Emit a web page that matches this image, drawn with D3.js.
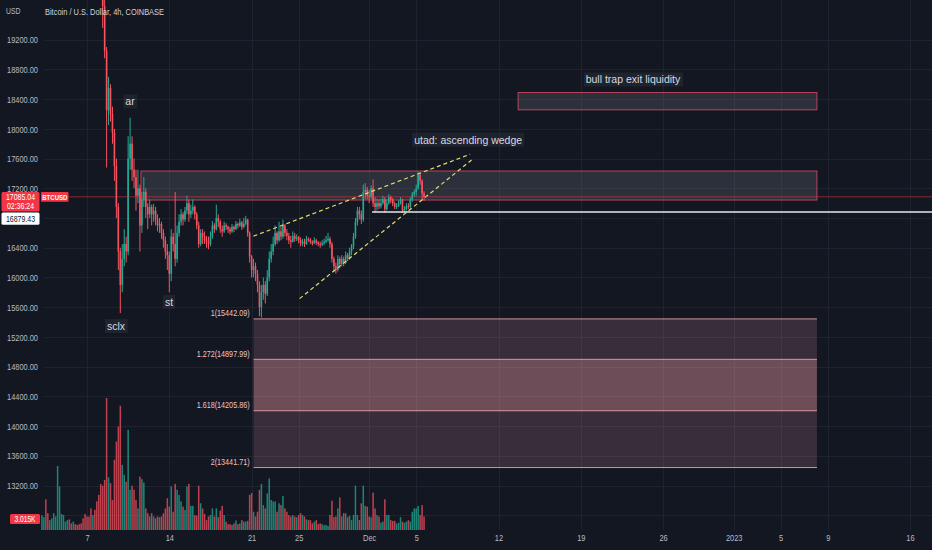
<!DOCTYPE html>
<html>
<head>
<meta charset="utf-8">
<title>BTCUSD 4h</title>
<script src="https://cdnjs.cloudflare.com/ajax/libs/d3/7.8.5/d3.min.js"></script>
<style>
	html, body { margin: 0; padding: 0; background: #131722; overflow: hidden; }
	svg { display: block; }
</style>
</head>
<body>
<svg id="chart" width="932" height="550"></svg>
<script>
(function(){
	'use strict';

	// 4h candles, Coinbase BTCUSD, first one 2022-11-03 04:00 UTC, one row per day
	var firstTime = Date.UTC(2022, 10, 3, 4);
	var firstOpen = 20200;

	var closes = [
		20250,20300,20180,20100,20220,
		20300,20350,20420,20950,21150,21150,
		21250,21300,21350,21300,21250,21300,
		21250,21200,21150,21100,21050,20900,
		20850,20800,20700,20800,20650,20600,
		20450,20150,19650,19050,18250,18550,
		18200,17950,17500,16950,16350,15900,
		16250,16450,16350,17600,17800,17450,
		17350,17100,17200,16700,17050,17150,
		16950,16850,16950,16850,16900,16780,
		16700,16720,16600,16500,16350,16300,
		16050,16550,16450,16250,16600,16750,
		16850,16780,16900,17000,16850,16900,
		16950,16850,16700,16450,16600,16550,
		16500,16470,16450,16550,16700,16650,
		16800,16750,16650,16620,16700,16680,
		16650,16620,16680,16650,16720,16700,
		16740,16680,16720,16780,16600,16280,
		16100,16150,16050,15900,15600,15800,
		15900,15780,16000,16250,16350,16450,
		16600,16500,16620,16550,16700,16600,
		16560,16500,16480,16560,16520,16540,
		16500,16460,16480,16450,16520,16510,
		16480,16460,16500,16470,16450,16440,
		16460,16480,16500,16520,16450,16250,
		16150,16100,16250,16180,16250,16200,
		16300,16260,16350,16420,16550,16750,
		16900,16850,16780,17150,17180,17100,
		17080,17200,17000,16950,17000,16960,
		17000,17050,16920,17000,17080,17050,
		17000,16950,16960,17000,17050,16900,
		16920,16960,16950,17050,17120,17150,
		17200,17380,17300,17130,17085.04
	];

	var highs = [
		20320,20380,20350,20230,20260,
		20340,20420,20480,21050,21250,21280,
		21330,21360,21470,21380,21340,21350,
		21320,21280,21240,21200,21150,21100,
		20950,20900,20850,20880,20850,20700,
		20680,20500,20200,20000,19100,18700,
		18600,18300,18000,17600,17000,16400,
		16450,16650,16550,17900,18150,17900,
		17600,17450,17450,17250,17150,17350,
		17200,17000,17050,16980,16990,16950,
		16850,16800,16750,16650,16550,16450,
		16350,16650,16600,17150,16700,16850,
		16920,16880,16950,17100,17050,16980,
		17050,16970,16880,16750,16650,16650,
		16620,16560,16550,16620,16760,16730,
		16980,16850,16780,16700,16750,16730,
		16700,16680,16720,16700,16760,16740,
		16790,16760,16800,16830,16790,16620,
		16300,16250,16200,16100,15950,15900,
		16000,15950,16100,16350,16450,16550,
		16700,16620,16750,16680,16780,16720,
		16650,16600,16560,16620,16600,16580,
		16560,16540,16520,16520,16560,16540,
		16530,16500,16540,16520,16490,16480,
		16500,16520,16560,16600,16550,16480,
		16280,16200,16300,16280,16300,16280,
		16350,16330,16400,16450,16600,16800,
		16950,16950,16900,17250,17270,17220,
		17180,17240,17320,17080,17060,17050,
		17060,17100,17080,17050,17120,17100,
		17070,17020,17000,17040,17080,17060,
		16960,17000,17000,17080,17150,17180,
		17250,17424,17400,17320,17160
	];

	var lows = [
		20150,20200,20120,20050,20080,
		20180,20260,20300,20380,20900,21050,
		21100,21200,21250,21220,21200,21180,
		21200,21150,21100,21050,20950,20850,
		20780,20700,20600,20650,20550,20500,
		20380,19900,19360,18950,17480,18050,
		18100,17800,17300,16800,16100,15520,
		15800,16150,16200,16300,17450,17300,
		17200,16900,17000,16350,16600,16950,
		16800,16650,16800,16700,16750,16700,
		16620,16600,16520,16400,16250,16100,
		15800,15950,16350,16150,16200,16550,
		16700,16700,16750,16850,16750,16800,
		16850,16780,16650,16400,16420,16450,
		16450,16400,16380,16420,16520,16600,
		16630,16680,16600,16550,16600,16640,
		16600,16580,16600,16610,16640,16660,
		16680,16640,16660,16700,16550,16200,
		16000,16000,15950,15800,15480,15460,
		15700,15650,15750,15950,16200,16300,
		16420,16450,16480,16500,16520,16550,
		16500,16450,16400,16470,16480,16490,
		16460,16420,16420,16410,16440,16480,
		16450,16430,16450,16440,16420,16400,
		16420,16440,16460,16480,16400,16200,
		16080,16050,16080,16120,16150,16150,
		16180,16220,16240,16300,16380,16520,
		16700,16780,16720,16750,17050,17050,
		17000,17060,16950,16880,16900,16920,
		16930,16980,16870,16900,16980,17000,
		16960,16920,16920,16950,16980,16870,
		16870,16900,16920,16930,17020,17080,
		17100,17180,17250,17050,17030
	];

	// volume in thousands of BTC
	var volumes = [
		4.1,3.5,8.4,4.6,2.7,
		3.2,4.6,3.7,17.5,11.9,4.4,
		4.1,2.3,2.7,2.9,1.8,2.3,
		1.6,1.4,1.6,1.8,3.2,4.4,
		3.7,3.7,5.9,4.1,5.5,7.8,
		9.6,12.6,12.1,13.7,36.1,14.4,
		12.8,8.2,19.2,24.2,28.3,34.0,
		17.8,15.1,13.2,27.4,11.0,12.1,
		11.0,8.2,5.9,14.6,13.9,13.0,
		5.9,4.6,3.7,4.6,3.7,3.2,
		3.7,3.5,3.7,4.6,5.9,8.7,
		6.4,11.9,5.0,12.6,11.0,9.6,
		7.8,6.4,5.5,11.9,12.6,6.6,
		6.6,4.1,3.9,12.1,7.3,5.9,
		4.4,2.7,3.7,4.1,5.9,3.7,
		5.9,3.5,5.3,6.6,4.1,2.3,
		1.6,1.6,1.4,1.8,2.6,1.6,
		1.8,2.7,2.3,2.3,2.5,9.6,
		10.1,5.0,3.7,5.0,11.0,12.6,
		6.8,5.9,10.0,14.1,8.2,7.8,
		7.8,5.0,7.3,6.8,9.3,5.9,
		5.0,4.1,3.7,4.1,3.7,3.5,
		4.1,4.6,4.1,3.7,2.9,2.7,
		2.7,1.8,2.3,2.7,1.6,1.8,
		1.6,1.3,1.4,1.1,4.1,8.0,
		3.5,3.7,5.9,8.9,3.7,4.6,
		4.6,3.5,3.9,2.7,4.1,12.1,
		4.1,2.7,7.3,12.1,6.6,6.4,
		3.7,3.5,10.2,5.9,4.1,3.7,
		2.0,2.3,8.4,4.1,4.1,2.7,
		2.5,2.5,1.8,2.0,3.5,2.3,
		2.0,2.3,2.7,2.3,5.0,5.9,
		5.9,6.6,4.1,6.8,3.7
	];
	var lastVolumeLabel = 3.015;

	var priceTicks = [19200,18800,18400,18000,17600,17200,16800,16400,16000,15600,15200,14800,14400,14000,13600,13200,12800];
	// these two sit under the price / volume badges, only their grid lines show
	var hiddenPriceLabels = [16800, 12800];
	var dateTicks = [
		Date.UTC(2022,10,7), Date.UTC(2022,10,14), Date.UTC(2022,10,21), Date.UTC(2022,10,25),
		Date.UTC(2022,11,1), Date.UTC(2022,11,5), Date.UTC(2022,11,12), Date.UTC(2022,11,19),
		Date.UTC(2022,11,26), Date.UTC(2023,0,1), Date.UTC(2023,0,5), Date.UTC(2023,0,9), Date.UTC(2023,0,16)
	];
	var dateLabels = ['7','14','21','25','Dec','5','12','19','26','2023','5','9','16'];

	// drawings
	var fibRatios = [1, 1.272, 1.618, 2];
	var fibPrices = [15442.09, 14897.99, 14205.86, 13441.71];
	var fibStart = Date.UTC(2022,10,21,4);
	var drawEnd = Date.UTC(2023,0,8,2);

	var zoneStarts = [Date.UTC(2022,11,13,16), Date.UTC(2022,10,11,14)];
	var zoneTops = [18489, 17433];
	var zoneBottoms = [18256, 17042];

	var wedgeUpper = [[Date.UTC(2022,10,21,4), 16556], [Date.UTC(2022,11,9,14), 17658]];
	var wedgeLower = [[Date.UTC(2022,10,25,2), 15715], [Date.UTC(2022,11,9,17), 17581]];

	var supportStart = Date.UTC(2022,11,1,6);
	var supportPrice = 16879.43;
	var lastPrice = 17085.04;

	var noteTexts = ['ar', 'sclx', 'st', 'utad: ascending wedge', 'bull trap exit liquidity'];
	var noteTimes = [Date.UTC(2022,10,10,15,45), Date.UTC(2022,10,9,11,10), Date.UTC(2022,10,13,23,25), Date.UTC(2022,11,9,10), Date.UTC(2022,11,23,10,30)];
	var notePrices = [18364, 15342, 15666, 17851, 18660];

	var W = 932, H = 550;
	var FONT = '"Liberation Sans", Arial, sans-serif';
	var UP = '#22ab94', DOWN = '#f7525f', RED = '#f23645';
	var GRID = '#1f2330', TEXT = '#b8bbc4';
	var SQUEEZE = 'scale(0.76,1)';
	var STEP = 4 * 3600 * 1000;

	var svg = d3.select('#chart').attr('font-family', FONT);

	var x = d3.scaleUtc()
		.domain([new Date(Date.UTC(2022,10,7)), new Date(Date.UTC(2023,0,16))])
		.range([87, 910]);
	var y = d3.scaleLinear().domain([13200, 19200]).range([485.5, 39.7]);
	var yVol = d3.scaleLinear().domain([0, 36.1]).range([530, 398]);

	var candles = closes.map(function(c, i){
		return {
			t: new Date(firstTime + i * STEP),
			o: i ? closes[i - 1] : firstOpen,
			h: highs[i], l: lows[i], c: c, v: volumes[i]
		};
	});
	function colorOf(d){ return d.c >= d.o ? UP : DOWN; }

	svg.append('rect').attr('width', W).attr('height', H).attr('fill', '#131722');

	drawGrid();
	drawVolume();
	drawFib();
	drawZones();
	drawCandles();
	drawLines();
	drawNotes();
	drawAxes();
	drawPriceLabels();

	function drawGrid(){
		var g = svg.append('g').attr('stroke', GRID).attr('stroke-width', 1);
		g.selectAll('line.h').data(priceTicks).join('line').attr('class', 'h')
			.attr('x1', 44).attr('x2', W)
			.attr('y1', function(d){ return Math.round(y(d)) + 0.5; })
			.attr('y2', function(d){ return Math.round(y(d)) + 0.5; });
		g.selectAll('line.v').data(dateTicks).join('line').attr('class', 'v')
			.attr('x1', function(d){ return Math.round(x(d)) + 0.5; })
			.attr('x2', function(d){ return Math.round(x(d)) + 0.5; })
			.attr('y1', 0).attr('y2', 530);
	}

	function drawVolume(){
		svg.append('g').selectAll('rect').data(candles).join('rect')
			.attr('x', function(d){ return x(d.t) - 0.75; })
			.attr('width', 1.5)
			.attr('y', function(d){ return yVol(d.v); })
			.attr('height', function(d){ return yVol(0) - yVol(d.v); })
			.attr('fill', colorOf)
			.attr('fill-opacity', 0.75);
	}

	function drawFib(){
		var g = svg.append('g');
		var x0 = x(fibStart), x1 = x(drawEnd);
		var bandAlpha = [0.17, 0.4, 0.17];
		for (var i = 0; i < fibPrices.length - 1; i++) {
			g.append('rect')
				.attr('x', x0).attr('width', x1 - x0)
				.attr('y', y(fibPrices[i])).attr('height', y(fibPrices[i + 1]) - y(fibPrices[i]))
				.attr('fill', 'rgb(246,163,171)').attr('fill-opacity', bandAlpha[i]);
		}
		g.selectAll('line').data(fibPrices).join('line')
			.attr('x1', x0).attr('x2', x1)
			.attr('y1', function(d){ return y(d); }).attr('y2', function(d){ return y(d); })
			.attr('stroke', 'rgba(246,163,171,0.85)').attr('stroke-width', 1);
		g.selectAll('text').data(fibPrices).join('text')
			.attr('transform', function(d){ return 'translate(' + (x0 - 4) + ',' + (y(d) - 6) + ') ' + SQUEEZE; })
			.attr('dy', '0.35em')
			.attr('text-anchor', 'end')
			.attr('font-size', 9.5)
			.attr('fill', '#efc3c8')
			.text(function(d, i){ return fibRatios[i] + '(' + d.toFixed(2) + ')'; });
	}

	function drawZones(){
		var x1 = x(drawEnd);
		svg.append('g').selectAll('rect').data(zoneStarts).join('rect')
			.attr('x', function(d){ return x(d); })
			.attr('width', function(d){ return x1 - x(d); })
			.attr('y', function(d, i){ return y(zoneTops[i]); })
			.attr('height', function(d, i){ return y(zoneBottoms[i]) - y(zoneTops[i]); })
			.attr('fill', 'rgba(120,123,134,0.25)')
			.attr('stroke', 'rgba(242,80,110,0.72)')
			.attr('stroke-width', 1);
	}

	function drawCandles(){
		var g = svg.append('g');
		g.selectAll('line').data(candles).join('line')
			.attr('x1', function(d){ return x(d.t); })
			.attr('x2', function(d){ return x(d.t); })
			.attr('y1', function(d){ return y(d.h); })
			.attr('y2', function(d){ return y(d.l); })
			.attr('stroke', colorOf)
			.attr('stroke-width', 1);
		g.selectAll('rect').data(candles).join('rect')
			.attr('x', function(d){ return x(d.t) - 0.8; })
			.attr('width', 1.6)
			.attr('y', function(d){ return y(Math.max(d.o, d.c)); })
			.attr('height', function(d){ return Math.max(0.8, Math.abs(y(d.o) - y(d.c))); })
			.attr('fill', colorOf);
	}

	function drawLines(){
		var line = d3.line()
			.x(function(d){ return x(d[0]); })
			.y(function(d){ return y(d[1]); });
		svg.append('g').selectAll('path').data([wedgeUpper, wedgeLower]).join('path')
			.attr('d', line)
			.attr('fill', 'none')
			.attr('stroke', '#e3dc6a')
			.attr('stroke-width', 1.2)
			.attr('stroke-dasharray', '4,3');

		// last price line
		svg.append('line')
			.attr('x1', 44).attr('x2', W)
			.attr('y1', y(lastPrice)).attr('y2', y(lastPrice))
			.attr('stroke', RED).attr('stroke-opacity', 0.55).attr('stroke-width', 1);

		svg.append('line')
			.attr('x1', x(supportStart)).attr('x2', W)
			.attr('y1', y(supportPrice)).attr('y2', y(supportPrice))
			.attr('stroke', '#e6e8ee').attr('stroke-width', 1.5);
	}

	function drawNotes(){
		noteTexts.forEach(function(txt, i){
			var g = svg.append('g');
			var bg = g.append('rect');
			var t = g.append('text')
				.attr('x', x(noteTimes[i]))
				.attr('y', y(notePrices[i]))
				.attr('dy', '0.35em')
				.attr('text-anchor', 'middle')
				.attr('font-size', 10.5)
				.attr('fill', '#d7dae2')
				.text(txt);
			var b = t.node().getBBox();
			bg.attr('x', b.x - 2).attr('y', b.y - 1)
				.attr('width', b.width + 4).attr('height', b.height + 2)
				.attr('fill', 'rgba(42,46,57,0.55)');
		});
	}

	function drawAxes(){
		var yAxis = svg.append('g')
			.attr('transform', 'translate(7,0)')
			.call(d3.axisRight(y)
				.tickValues(priceTicks.filter(function(d){ return hiddenPriceLabels.indexOf(d) < 0; }))
				.tickSize(0).tickPadding(0)
				.tickFormat(function(d){ return d.toFixed(2); }));
		yAxis.select('.domain').remove();
		yAxis.selectAll('text')
			.attr('transform', SQUEEZE)
			.attr('fill', TEXT)
			.attr('font-size', 9.8)
			.attr('font-family', FONT);

		var xAxis = svg.append('g')
			.attr('transform', 'translate(0,534)')
			.call(d3.axisBottom(x).tickValues(dateTicks.map(function(d){ return new Date(d); }))
				.tickSize(0).tickPadding(0)
				.tickFormat(function(d, i){ return dateLabels[i]; }));
		xAxis.select('.domain').remove();
		xAxis.selectAll('text')
			.attr('transform', SQUEEZE)
			.attr('fill', TEXT)
			.attr('font-size', 9.8)
			.attr('font-family', FONT);

		svg.append('text')
			.attr('transform', 'translate(6,11) ' + SQUEEZE)
			.attr('dy', '0.35em')
			.attr('font-size', 9)
			.attr('fill', TEXT)
			.text('USD');
		svg.append('text')
			.attr('transform', 'translate(45,12) ' + SQUEEZE)
			.attr('dy', '0.35em')
			.attr('font-size', 9.8)
			.attr('fill', '#d1d4dc')
			.text('Bitcoin / U.S. Dollar, 4h, COINBASE');
	}

	function label(g, text, cx, cy, size, color){
		return g.append('text')
			.attr('transform', 'translate(' + cx + ',' + cy + ') ' + SQUEEZE)
			.attr('dy', '0.35em')
			.attr('text-anchor', 'middle')
			.attr('font-size', size)
			.attr('fill', color)
			.text(text);
	}

	function drawPriceLabels(){
		var g = svg.append('g');
		var py = y(lastPrice);
		var redTop = py - 4.8, redBottom = py + 14.6;
		g.append('rect').attr('x', 1.5).attr('y', redTop).attr('width', 38).attr('height', redBottom - redTop)
			.attr('rx', 1.5).attr('fill', RED);
		label(g, lastPrice.toFixed(2), 20.5, py + 0.4, 9.2, '#ffffff');
		label(g, '02:36:24', 20.5, py + 9.2, 9.2, '#ffffff');

		g.append('rect').attr('x', 41).attr('y', redTop).attr('width', 27.5).attr('height', 9.6)
			.attr('rx', 1).attr('fill', RED);
		label(g, 'BTCUSD', 54.8, redTop + 4.8, 8, '#ffffff').attr('font-weight', 'bold');

		var sTop = Math.max(y(supportPrice) - 6.2, redBottom + 1);
		g.append('rect').attr('x', 1.5).attr('y', sTop).attr('width', 38).attr('height', 12.4)
			.attr('rx', 1.5).attr('fill', '#ffffff');
		label(g, supportPrice.toFixed(2), 20.5, sTop + 6.2, 9.2, '#131722');

		var vy = yVol(lastVolumeLabel);
		g.append('rect').attr('x', 10).attr('y', vy - 5).attr('width', 30).attr('height', 10)
			.attr('rx', 1.5).attr('fill', RED);
		label(g, lastVolumeLabel.toFixed(3) + 'K', 25, vy, 8.8, '#ffffff');
	}

})();
</script>
</body>
</html>
